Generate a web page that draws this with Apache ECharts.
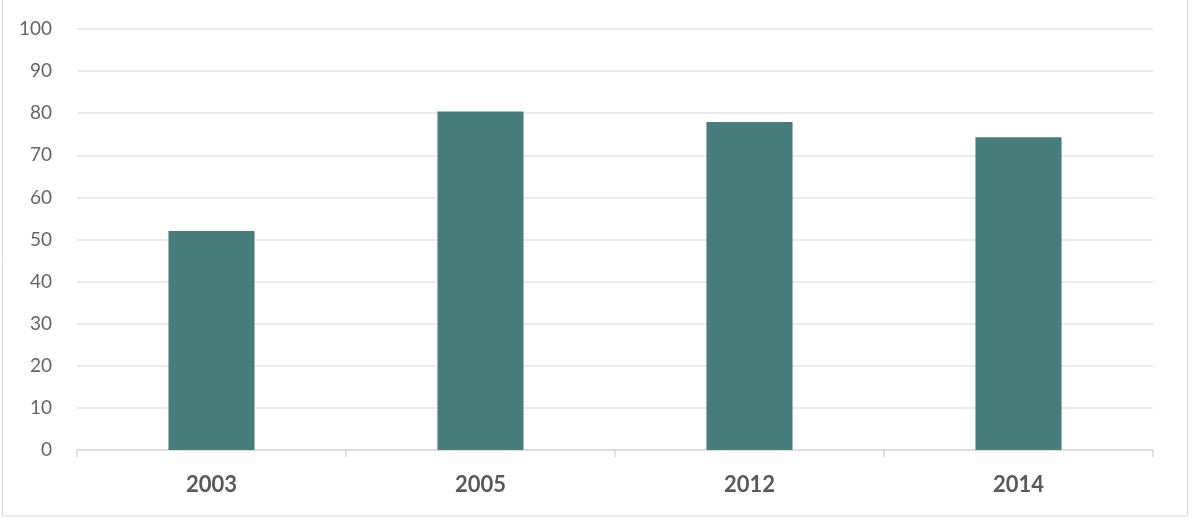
<!DOCTYPE html>
<html>
<head>
<meta charset="utf-8">
<script src="https://cdn.jsdelivr.net/npm/echarts@6/dist/echarts.min.js"></script>
<style>
html,body{margin:0;padding:0;background:#fff;}
#c{width:1194px;height:521px;}
</style>
</head>
<body>
<div id="c"></div>
<script>
const categories = ['2003', '2005', '2012', '2014'];
const values = [52, 80.4, 77.9, 74.3];
const yTicks = { min: 0, max: 100, interval: 10 };

const chart = echarts.init(document.getElementById('c'), null, { renderer: 'canvas' });
chart.setOption({
  animation: false,
  backgroundColor: '#ffffff',
  graphic: [{
    type: 'rect',
    shape: { x: 2.5, y: -2, width: 1185, height: 518 },
    style: { fill: 'none', stroke: '#d9d9d9', lineWidth: 1 },
    silent: true
  }],
  grid: { left: 77, right: 41, top: 29, bottom: 71, containLabel: false },
  xAxis: {
    type: 'category',
    data: categories,
    axisLine: { show: true, lineStyle: { color: '#d9d9d9', width: 1.5 } },
    axisTick: { show: true, length: 7, lineStyle: { color: '#d9d9d9', width: 1.5 } },
    axisLabel: { color: '#595959', fontSize: 22, fontWeight: 'bold', fontFamily: 'Lato', margin: 24 }
  },
  yAxis: {
    type: 'value',
    min: yTicks.min, max: yTicks.max, interval: yTicks.interval,
    axisLine: { show: false },
    axisTick: { show: false },
    splitLine: { lineStyle: { color: '#e3e3e3', width: 1.5 } },
    axisLabel: { color: '#666666', fontSize: 19, fontFamily: 'Lato', margin: 25 }
  },
  series: [{
    type: 'bar',
    data: values,
    barWidth: '32%',
    itemStyle: { color: '#467c7a' }
  }]
});
</script>
</body>
</html>
